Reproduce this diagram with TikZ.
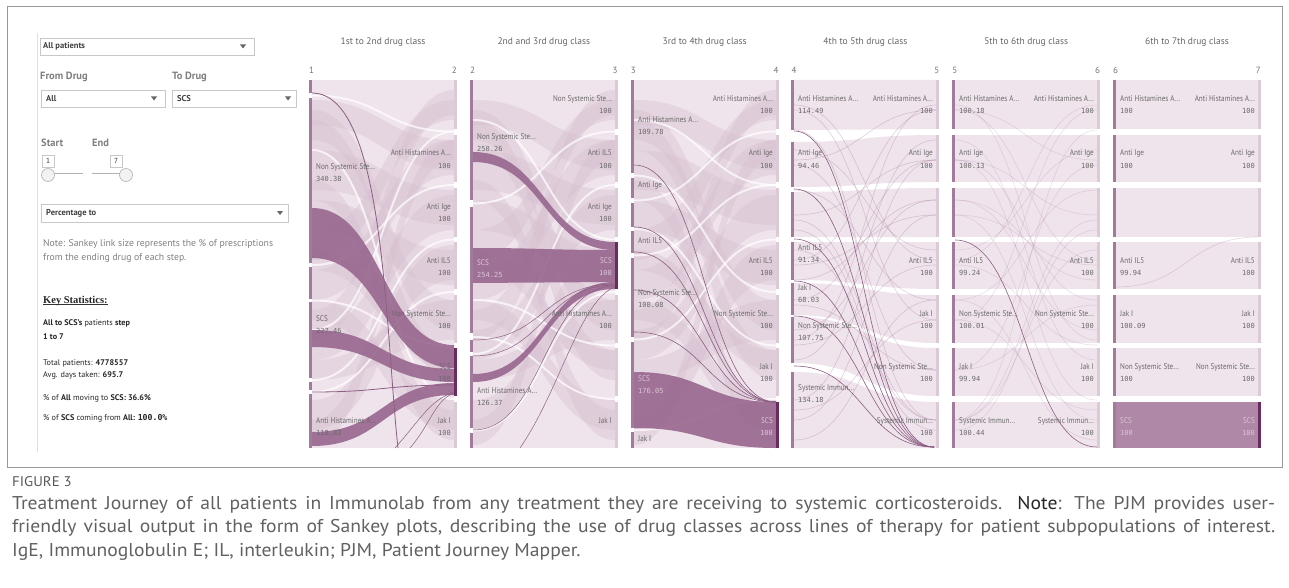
\documentclass[tikz,border=0pt]{standalone}
\usepackage{fontspec}
\setmainfont{PT Sans}
\newfontfamily\dashfont[FakeStretch=0.86]{PT Sans}
\newfontfamily\numfont{DejaVu Sans Mono}
\newfontfamily\serifbold{Liberation Serif}
\newfontfamily\capfont[FakeStretch=1.06]{PT Sans}
\usetikzlibrary{positioning, calc}

\definecolor{flowbg}{HTML}{EFE4EC}
\definecolor{flowmid}{HTML}{D7BFD0}
\definecolor{flowdark}{HTML}{9A6990}
\definecolor{barpurple}{HTML}{A27A9B}
\definecolor{barpale}{HTML}{DCCAD7}
\definecolor{bardark}{HTML}{6A2B5E}
\definecolor{scsfill}{HTML}{AE88A6}
\definecolor{scstext}{HTML}{DCC6D6}
\definecolor{labgrey}{HTML}{6A6A6A}
\definecolor{framegrey}{HTML}{999999}
\definecolor{boxline}{HTML}{C8C8C8}

% sankey link: style, x1, top1, bottom1, x2, top2, bottom2
\newcommand{\sflow}[7][]{%
  \pgfmathsetmacro{\fmx}{(#2+#5)/2}%
  \fill[#1] (#2,#3) .. controls (\fmx,#3) and (\fmx,#6) .. (#5,#6) -- (#5,#7)
    .. controls (\fmx,#7) and (\fmx,#4) .. (#2,#4) -- cycle;}
% thin link: style, x1, y1, x2, y2
\newcommand{\sline}[5][]{%
  \pgfmathsetmacro{\fmx}{(#2+#4)/2}%
  \draw[#1] (#2,#3) .. controls (\fmx,#3) and (\fmx,#5) .. (#4,#5);}
% label pairs (name + value)
\newcommand{\labL}[5][]{%
  \node[lbl, anchor=base west, #1] (#2) at (#3) {#4};
  \node[val, anchor=base west, #1] (#2v) at ($(#3)+(0,12)$) {#5};}
\newcommand{\labR}[5][]{%
  \node[lbl, anchor=base east, #1] (#2) at (#3) {#4};
  \node[val, anchor=base east, #1] (#2v) at ($(#3)+(0,12)$) {#5};}

\def\eqsegs{80/129,135/182,188/237,242/289,295/343,348/396,402/448}
\def\lightlist{100/125/140/170, 110/140/300/330, 150/190/190/225, 200/230/250/285,
  230/260/100/120, 270/300/140/175, 300/320/400/430, 330/360/195/230, 360/380/300/340,
  400/430/245/280, 420/445/140/160, 120/150/350/380, 180/200/410/440, 250/270/350/370,
  310/340/90/115}
\def\thinlist{105/260, 110/320, 160/110, 165/370, 215/160, 220/420, 260/110, 265/215,
  300/160, 305/370, 340/105, 345/265, 400/160, 410/320, 420/215, 130/420, 190/300,
  230/430, 280/200, 360/140, 150/250, 250/420, 330/200, 440/300}

\begin{document}
\begin{tikzpicture}[x=1pt, y=-1pt,
    lbl/.style={font=\dashfont\fontsize{8.3}{10}\selectfont, text=labgrey, inner sep=0},
    val/.style={font=\numfont\fontsize{7}{8}\selectfont, text=labgrey, inner sep=0},
    ttl/.style={font=\fontsize{9.5}{11}\selectfont, text=black!60, inner sep=0},
    stepno/.style={font=\fontsize{9}{10}\selectfont, text=black!55, inner sep=0},
    wbox/.style={draw=boxline, fill=white, line width=0.8},
    wtxt/.style={font=\fontsize{8.5}{10}\selectfont\bfseries, text=black!75, inner sep=0, anchor=west},
    whead/.style={font=\fontsize{10.5}{12}\selectfont\bfseries, text=black!50, inner sep=0, anchor=west},
    wnote/.style={font=\fontsize{9.7}{11}\selectfont, text=black!50, inner sep=0, anchor=west},
    wstat/.style={font=\fontsize{8.2}{10}\selectfont, text=black!85, inner sep=0, anchor=west},
    knob/.style={draw=black!30, fill=black!5, line width=0.6},
    darkflow/.style={fill=flowdark, fill opacity=0.92},
    lightflow/.style={fill=flowmid, fill opacity=0.4},
    thinflow/.style={draw=flowdark, line width=0.6, draw opacity=0.3},
    darkline/.style={draw=flowdark!90!black, line width=0.8},
    gapline/.style={draw=white, line width=2, draw opacity=0.7},
    onscs/.style={text=scstext}
  ]
  \useasboundingbox (0,0) rectangle (1289,588);
  \fill[white] (0,0) rectangle (1289,588);
  \draw[framegrey, line width=1] (7,7) rectangle (1282,467);

  % Filter panel
  \draw[black!12, line width=0.8] (37,33) -- (37,452);
  \draw[wbox] (40,38) rectangle (254,55);
  \node[wtxt] (patsel) at (43,46.5) {All patients};
  \fill[black!60] (240,44.5) -- (246,44.5) -- (243,48.5) -- cycle;
  \node[whead] (fromlab) at (40,77) {From Drug};
  \node[whead] (tolab) at (172,77) {To Drug};
  \draw[wbox] (41,90) rectangle (165,107);
  \node[wtxt] (fromsel) at (46,98.5) {All};
  \fill[black!60] (151,96.5) -- (157,96.5) -- (154,100.5) -- cycle;
  \draw[wbox] (172,90) rectangle (296,107);
  \node[wtxt] (tosel) at (177,98.5) {SCS};
  \fill[black!60] (285,96.5) -- (291,96.5) -- (288,100.5) -- cycle;
  \node[whead] (startlab) at (41,143) {Start};
  \node[whead] (endlab) at (92,143) {End};
  \draw[wbox] (42,155) rectangle (54,167);
  \node[font=\numfont\fontsize{7}{8}\selectfont, text=black!70, inner sep=0] (startval) at (48,161) {1};
  \draw[wbox] (110,155) rectangle (122,167);
  \node[font=\numfont\fontsize{7}{8}\selectfont, text=black!70, inner sep=0] (endval) at (116,161) {7};
  \draw[black!30, line width=3] (48,175) -- (83,175) (92,175) -- (126,175);
  \draw[white, line width=1.6] (48,175) -- (83,175) (92,175) -- (126,175);
  \draw[knob] (48,175) circle[radius=6.5];
  \draw[knob] (126,175) circle[radius=6.5];
  \draw[wbox] (41,204) rectangle (288,222);
  \node[wtxt] (pctsel) at (46,213) {Percentage to};
  \fill[black!60] (277,211) -- (283,211) -- (280,215) -- cycle;
  \node[wnote] (note1) at (43,244) {Note: Sankey link size represents the \% of prescriptions};
  \node[wnote] (note2) at (43,258) {from the ending drug of each step.};

  % Key statistics
  \node[font=\serifbold\bfseries\fontsize{10.5}{12}\selectfont, text=black!85, inner sep=0, anchor=west] (keyhead) at (43,301) {Key Statistics:};
  \draw[black!80, line width=0.7] ([yshift=-1.3pt]keyhead.base west) -- ([yshift=-1.3pt]keyhead.base east);
  \node[wstat] (stat1) at (43,323) {\textbf{All to SCS's} patients \textbf{step}};
  \node[wstat] (stat2) at (43,337) {\textbf{1 to 7}};
  \node[wstat] (stat3) at (43,363) {Total patients: \textbf{4778557}};
  \node[wstat] (stat4) at (43,375) {Avg. days taken: \textbf{695.7}};
  \node[wstat] (stat5) at (43,398) {\% of \textbf{All} moving to \textbf{SCS: 36.6\%}};
  \node[wstat] (stat6) at (43,418) {\% of \textbf{SCS} coming from \textbf{All: {\numfont 100.0\%}}};

  % Titles and step numbers
  \foreach \k/\t in {0/1st to 2nd drug class, 1/2nd and 3rd drug class, 2/3rd to 4th drug class,
      3/4th to 5th drug class, 4/5th to 6th drug class, 5/6th to 7th drug class} {
    \node[ttl] (title\k) at (383+160.8*\k,42) {\t};
    \pgfmathtruncatemacro{\sa}{\k+1}
    \pgfmathtruncatemacro{\sb}{\k+2}
    \node[stepno, anchor=west] (stepa\k) at (309+160.8*\k,70) {\sa};
    \node[stepno, anchor=east] (stepb\k) at (457+160.8*\k,70) {\sb};
  }

  % Panels 1-3: background links
  \foreach \xa/\xb in {312/454, 473/615, 634/776} {
    \fill[flowbg] (\xa,80) rectangle (\xb,448);
    \foreach \a/\b/\c/\d in \lightlist {
      \sflow[lightflow]{\xa}{\a}{\b}{\xb}{\c}{\d}
    }
  }
  \foreach \ya/\yb in {95.5/131.5, 265/185, 300.5/345.5, 380/239.5, 392/292, 150/399, 330/131.5} {
    \sline[gapline]{312}{\ya}{454}{\yb}
  }
  \foreach \ya/\yb in {203.5/131.5, 337/399, 354/185, 430.5/292, 120/239.5, 300/345.5} {
    \sline[gapline]{473}{\ya}{615}{\yb}
  }
  \foreach \ya/\yb in {175.5/292, 200.5/131.5, 229/345.5, 255.5/185, 339.5/239.5, 430/399, 120/185} {
    \sline[gapline]{634}{\ya}{776}{\yb}
  }

  % Panel 1 highlighted links
  \sflow[darkflow]{312}{208}{258}{454}{345}{368}
  \sflow[darkflow]{312}{330}{347}{454}{369}{382}
  \sflow[darkflow]{312}{432}{446}{454}{383}{395}
  \sline[darkline]{312}{392}{454}{385}
  \draw[darkline] (312,93) .. controls (385,93) and (385,330) .. (398,448);
  \draw[darkline, line width=0.5] (395,448) .. controls (420,420) and (430,400) .. (454,392);
  \draw[darkline, line width=0.5] (410,448) .. controls (430,425) and (435,400) .. (454,393);

  % Panel 2 highlighted links
  \sflow[darkflow]{473}{152}{162}{615}{242}{250}
  \sflow[darkflow]{473}{248}{283}{615}{250}{282}
  \sflow[darkflow]{473}{374}{382}{615}{282}{289}
  \sline[darkline, line width=0.5]{473}{340}{615}{284}
  \sline[darkline, line width=0.5]{473}{356}{615}{285}
  \sline[darkline, line width=0.5]{473}{430}{615}{286}
  \draw[darkline, line width=0.5] (520,448) .. controls (560,390) and (580,300) .. (615,287);

  % Panel 3 highlighted links
  \sflow[darkflow]{634}{372}{428}{776}{402}{448}
  \foreach \ya in {165, 227, 252, 290, 332} {
    \sline[darkline, line width=0.6]{634}{\ya}{776}{402}
  }

  % Panels 4-6: row links
  \foreach \a/\b/\c/\d in {80/130/80/129, 142/187/135/182, 192/237/188/237, 242/280/242/289,
      283/315/295/343, 317/363/348/396, 372/448/402/448} {
    \sflow[fill=flowbg]{794}{\a}{\b}{936}{\c}{\d}
  }
  \foreach \xa/\xb in {955/1097, 1116/1258} {
    \foreach \a/\b in \eqsegs {
      \fill[flowbg] (\xa,\a) rectangle (\xb,\b);
    }
  }
  \fill[scsfill] (1116,402) rectangle (1258,448);
  \foreach \ya/\yb in \thinlist {
    \sline[thinflow]{794}{\ya}{936}{\yb}
    \sline[thinflow, draw opacity=0.2]{955}{\yb}{1097}{\ya}
  }
  \foreach \ya in {131, 189, 239, 281, 316, 366} {
    \sline[darkline, line width=0.6]{794}{\ya}{934}{447}
  }
  \sline[darkline, line width=0.6]{955}{240}{1097}{447}
  \sline[thinflow, draw opacity=0.25]{1116}{287}{1258}{237}

  % Bars
  \foreach \a/\b in {80/93, 98/263, 267/299, 302/378, 382/390, 394/448} {
    \fill[barpurple] (309,\a) rectangle (312,\b);
  }
  \foreach \a/\b in {80/200, 207/333, 340/352, 356/428, 433/448} {
    \fill[barpurple] (470,\a) rectangle (473,\b);
  }
  \foreach \a/\b in {80/173, 178/198, 203/227, 231/253, 258/337, 342/428, 432/448} {
    \fill[barpurple] (631,\a) rectangle (634,\b);
  }
  \foreach \a/\b in {80/130, 142/187, 192/237, 242/280, 283/315, 317/363, 372/448} {
    \fill[barpurple] (791,\a) rectangle (794,\b);
  }
  \foreach \a/\b in \eqsegs {
    \fill[barpurple] (952,\a) rectangle (955,\b);
    \fill[barpurple] (1113,\a) rectangle (1116,\b);
    \foreach \xr in {454, 615, 776, 936, 1097, 1258} {
      \fill[barpale] (\xr,\a) rectangle (\xr+3,\b);
    }
  }
  \fill[bardark] (454,348) rectangle (457,396);
  \fill[bardark] (615,242) rectangle (618,289);
  \fill[bardark] (776,402) rectangle (779,448);
  \fill[bardark] (1258,402) rectangle (1261,448);

  % Panel 1 labels
  \labL{p1l1}{316,170}{Non Systemic Ste...}{340.38}
  \labL{p1l2}{316,321}{SCS}{227.46}
  \labL{p1l3}{316,423}{Anti Histamines A...}{118.83}
  \labR{p1r1}{451,156}{Anti Histamines A...}{100}
  \labR{p1r2}{451,209}{Anti Ige}{100}
  \labR{p1r3}{451,263}{Anti IL5}{100}
  \labR{p1r4}{451,316}{Non Systemic Ste...}{100}
  \labR{p1r5}{451,369}{SCS}{100}
  \labR{p1r6}{451,423}{Jak I}{100}

  % Panel 2 labels
  \labL{p2l1}{477,140}{Non Systemic Ste...}{250.26}
  \labL[onscs]{p2l2}{477,265}{SCS}{254.25}
  \labL{p2l3}{477,393}{Anti Histamines A...}{126.37}
  \labR{p2r0}{612,102}{Non Systemic Ste...}{100}
  \labR{p2r1}{612,156}{Anti IL5}{100}
  \labR{p2r2}{612,209}{Anti Ige}{100}
  \labR[onscs]{p2r3}{612,263}{SCS}{100}
  \labR{p2r4}{612,316}{Anti Histamines A...}{100}
  \node[lbl, anchor=base east] (p2r6) at (612,423) {Jak I};

  % Panel 3 labels
  \labL{p3l1}{638,123}{Anti Histamines A...}{109.78}
  \node[lbl, anchor=base west] (p3l2) at (638,188) {Anti Ige};
  \node[lbl, anchor=base west] (p3l3) at (638,243) {Anti IL5};
  \labL{p3l4}{638,295}{Non Systemic Ste...}{100.08}
  \labL[onscs]{p3l5}{638,381}{SCS}{176.05}
  \node[lbl, anchor=base west] (p3l6) at (638,441) {Jak I};
  \labR{p3r0}{773,102}{Anti Histamines A...}{100}
  \labR{p3r1}{773,156}{Anti Ige}{100}
  \labR{p3r3}{773,263}{Anti IL5}{100}
  \labR{p3r4}{773,316}{Non Systemic Ste...}{100}
  \labR{p3r5}{773,369}{Jak I}{100}
  \labR[onscs]{p3r6}{773,423}{SCS}{100}

  % Panel 4 labels
  \labL{p4l0}{798,102}{Anti Histamines A...}{114.49}
  \labL{p4l1}{798,156}{Anti Ige}{94.46}
  \labL{p4l3}{798,250}{Anti IL5}{91.34}
  \labL{p4l4}{798,290}{Jak I}{68.03}
  \labL{p4l5}{798,328}{Non Systemic Ste...}{107.75}
  \labL{p4l6}{798,390}{Systemic Immun...}{134.18}
  \labR{p4r0}{933,102}{Anti Histamines A...}{100}
  \labR{p4r1}{933,156}{Anti Ige}{100}
  \labR{p4r3}{933,263}{Anti IL5}{100}
  \labR{p4r4}{933,316}{Jak I}{100}
  \labR{p4r5}{933,369}{Non Systemic Ste...}{100}
  \labR{p4r6}{933,423}{Systemic Immun...}{100}

  % Panel 5 labels
  \labL{p5l0}{959,102}{Anti Histamines A...}{100.18}
  \labL{p5l1}{959,156}{Anti Ige}{100.13}
  \labL{p5l3}{959,263}{Anti IL5}{99.24}
  \labL{p5l4}{959,316}{Non Systemic Ste...}{100.01}
  \labL{p5l5}{959,369}{Jak I}{99.94}
  \labL{p5l6}{959,423}{Systemic Immun...}{100.44}
  \labR{p5r0}{1094,102}{Anti Histamines A...}{100}
  \labR{p5r1}{1094,156}{Anti Ige}{100}
  \labR{p5r3}{1094,263}{Anti IL5}{100}
  \labR{p5r4}{1094,316}{Non Systemic Ste...}{100}
  \labR{p5r5}{1094,369}{Jak I}{100}
  \labR{p5r6}{1094,423}{Systemic Immun...}{100}

  % Panel 6 labels
  \labL{p6l0}{1120,102}{Anti Histamines A...}{100}
  \labL{p6l1}{1120,156}{Anti Ige}{100}
  \labL{p6l3}{1120,263}{Anti IL5}{99.94}
  \labL{p6l4}{1120,316}{Jak I}{100.09}
  \labL{p6l5}{1120,369}{Non Systemic Ste...}{100}
  \labL[onscs]{p6l6}{1120,423}{SCS}{100}
  \labR{p6r0}{1255,102}{Anti Histamines A...}{100}
  \labR{p6r1}{1255,156}{Anti Ige}{100}
  \labR{p6r3}{1255,263}{Anti IL5}{100}
  \labR{p6r4}{1255,316}{Jak I}{100}
  \labR{p6r5}{1255,369}{Non Systemic Ste...}{100}
  \labR[onscs]{p6r6}{1255,423}{SCS}{100}

  % Caption
  \node[font=\capfont\fontsize{14}{16}\selectfont, text=black!65, inner sep=0, anchor=base west] (figlab) at (12,486) {FIGURE 3};
  \node[font=\capfont\fontsize{18.5}{23.5}\selectfont, text=black!62, inner sep=0, anchor=north west,
        text width=1263pt, align=justify] (caption) at (12,496)
    {Treatment Journey of all patients in Immunolab from any treatment they are receiving to systemic corticosteroids. {\color{black!85}Note}: The PJM provides user-\linebreak
     friendly visual output in the form of Sankey plots, describing the use of drug classes across lines of therapy for patient subpopulations of interest.\linebreak
     IgE, Immunoglobulin E; IL, interleukin; PJM, Patient Journey Mapper.};
\end{tikzpicture}
\end{document}
